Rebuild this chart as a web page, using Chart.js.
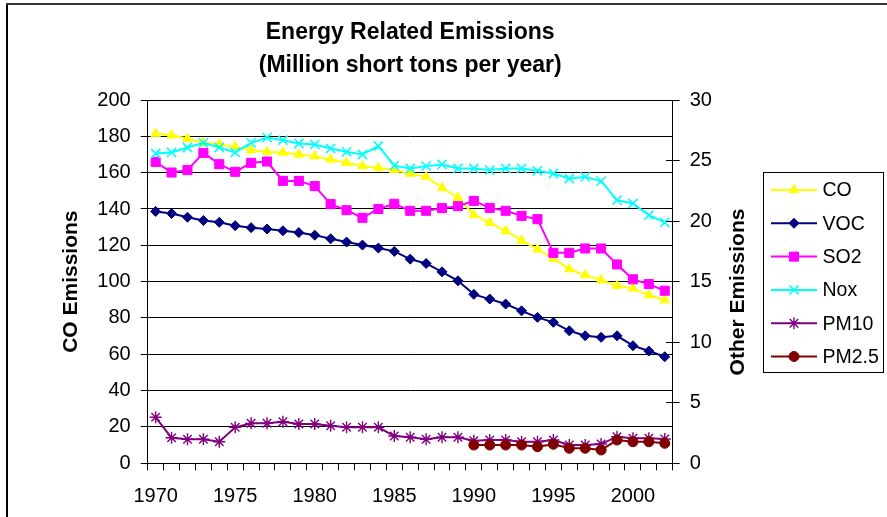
<!DOCTYPE html>
<html><head><meta charset="utf-8">
<script src="https://cdn.jsdelivr.net/npm/chart.js@4.4.1/dist/chart.umd.min.js"></script>
<style>html,body{margin:0;padding:0;background:#fff;overflow:hidden}canvas{display:block}</style>
</head><body>
<canvas id="c" width="887" height="517"></canvas>
<script>
const years = [1970,1971,1972,1973,1974,1975,1976,1977,1978,1979,1980,1981,1982,1983,1984,1985,1986,1987,1988,1989,1990,1991,1992,1993,1994,1995,1996,1997,1998,1999,2000,2001,2002];
const xTickLabels = ['1970','1975','1980','1985','1990','1995','2000'];
const leftTickValues = [0,20,40,60,80,100,120,140,160,180,200];
const rightTickValues = [0,5,10,15,20,25,30];

const coValues   = [181.5,180.6,178.8,176.4,175.7,174.2,172.4,171.5,171.1,170.0,169.1,167.3,165.4,163.6,162.7,161.5,159.5,157.7,151.7,146.2,136.8,132.4,128.0,122.7,117.8,112.8,106.9,103.6,100.9,97.7,96.3,92.6,89.9];
const vocValues  = [20.8,20.63,20.32,20.05,19.9,19.62,19.46,19.35,19.2,19.05,18.84,18.54,18.27,18.02,17.77,17.5,16.86,16.5,15.81,15.07,13.95,13.56,13.15,12.59,12.05,11.64,10.94,10.53,10.4,10.53,9.71,9.27,8.8];
const so2Values  = [24.89,24.01,24.21,25.63,24.70,24.07,24.81,24.92,23.32,23.32,22.89,21.40,20.90,20.27,21.0,21.43,20.85,20.85,21.07,21.23,21.67,21.09,20.85,20.43,20.16,17.38,17.38,17.74,17.74,16.42,15.19,14.80,14.25];
const noxValues  = [25.58,25.67,26.08,26.46,26.08,25.67,26.46,26.90,26.68,26.41,26.33,26.00,25.72,25.50,26.2,24.58,24.35,24.54,24.68,24.35,24.35,24.21,24.35,24.35,24.15,23.93,23.52,23.65,23.30,21.73,21.46,20.49,19.89];
const pm10Values = [3.80,2.11,1.98,1.98,1.78,2.97,3.30,3.30,3.43,3.24,3.24,3.10,2.97,2.97,2.97,2.25,2.15,1.98,2.15,2.15,1.87,1.92,1.92,1.78,1.78,1.92,1.51,1.51,1.59,2.20,2.06,2.06,2.01];
const pm25Values = [null,null,null,null,null,null,null,null,null,null,null,null,null,null,null,null,null,null,null,null,1.51,1.51,1.51,1.51,1.37,1.57,1.24,1.24,1.10,1.92,1.78,1.78,1.65];

const seriesNames = ['CO','VOC','SO2','Nox','PM10','PM2.5'];
const seriesValues = [coValues, vocValues, so2Values, noxValues, pm10Values, pm25Values];
const seriesAxes = ['y','y1','y1','y1','y1','y1'];
const seriesColors = ['#FFFF00','#000080','#FF00FF','#00FFFF','#800080','#800000'];
const seriesMarkers = ['triangle','rectRot','rect','crossRot','star','circle'];
const markerRadius = [5.5,5,6.4,6.5,6,5];
const markerBorder = [1,1,1,1.6,1.4,1];

const FONT = "'Liberation Sans', Arial, sans-serif";
Chart.defaults.font.family = FONT;
Chart.defaults.color = '#000';

// plot area geometry
const AREA = {left:147.7, right:672.7, top:100, bottom:463.3};

function drawMarker(ctx, style, r, bw, x, y, color){
  ctx.save();
  ctx.fillStyle = color; ctx.strokeStyle = color; ctx.lineWidth = bw;
  if (Chart.helpers && Chart.helpers.drawPoint) {
    Chart.helpers.drawPoint(ctx, {pointStyle: style, radius: r, borderWidth: bw, rotation: 0}, x, y);
  }
  ctx.restore();
}

const decor = {
  id: 'decor',
  beforeDraw(chart){
    const ctx = chart.ctx;
    ctx.save();
    ctx.fillStyle = '#fff'; ctx.fillRect(0,0,chart.width,chart.height);
    ctx.fillStyle = '#000'; ctx.fillRect(6,3,2,chart.height);
    ctx.fillStyle = '#333'; ctx.fillRect(6,3,chart.width,2);
    ctx.restore();
  },
  afterDraw(chart){
    const ctx = chart.ctx;
    const y1 = chart.scales.y1;
    const ca = chart.chartArea;
    ctx.save();
    // inner half of right-axis cross ticks
    ctx.strokeStyle = '#000'; ctx.lineWidth = 1;
    rightTickValues.forEach(v => {
      const py = Math.round(y1.getPixelForValue(v) - 0.5) + 0.5;
      ctx.beginPath(); ctx.moveTo(Math.round(ca.right) - 7, py); ctx.lineTo(Math.round(ca.right), py); ctx.stroke();
    });
    // right axis title (reads bottom to top)
    ctx.save();
    ctx.font = "bold 21px " + FONT;
    ctx.fillStyle = '#000';
    ctx.translate(738, 292);
    ctx.rotate(-Math.PI/2);
    ctx.textAlign = 'center'; ctx.textBaseline = 'middle';
    ctx.fillText('Other Emissions', 0, 0);
    ctx.restore();
    // legend
    ctx.strokeStyle = '#000'; ctx.lineWidth = 1;
    ctx.strokeRect(763.5, 172.5, 120, 200);
    ctx.font = "19.5px " + FONT;
    ctx.textAlign = 'left'; ctx.textBaseline = 'middle';
    seriesNames.forEach((name, i) => {
      const yy = 190 + i * 33.3;
      ctx.strokeStyle = seriesColors[i]; ctx.lineWidth = 2;
      ctx.beginPath(); ctx.moveTo(771, yy); ctx.lineTo(817, yy); ctx.stroke();
      drawMarker(ctx, seriesMarkers[i], markerRadius[i], markerBorder[i], 794, yy, seriesColors[i]);
      ctx.fillStyle = '#000';
      ctx.fillText(name, 822.5, yy + 1);
    });
    ctx.restore();
  }
};

const datasets = seriesNames.map((name, i) => ({
  label: name,
  data: seriesValues[i],
  yAxisID: seriesAxes[i],
  borderColor: seriesColors[i],
  backgroundColor: seriesColors[i],
  borderWidth: 2,
  pointStyle: seriesMarkers[i],
  pointRadius: markerRadius[i],
  pointBackgroundColor: seriesColors[i],
  pointBorderColor: seriesColors[i],
  pointBorderWidth: markerBorder[i],
  tension: 0,
  spanGaps: false,
  order: seriesNames.length - i
}));

new Chart(document.getElementById('c'), {
  type: 'line',
  data: { labels: years.map(String), datasets },
  options: {
    responsive: false,
    devicePixelRatio: 1,
    animation: false,
    events: [],
    layout: { padding: 0 },
    plugins: {
      legend: { display: false },
      tooltip: { enabled: false },
      title: {
        display: true,
        fullSize: false,
        text: ['Energy Related Emissions', '(Million short tons per year)'],
        font: { size: 23, weight: 'bold', lineHeight: '33px', family: FONT },
        color: '#000',
        padding: { top: 16.5, bottom: 17.5 }
      }
    },
    scales: {
      x: {
        type: 'category',
        offset: true,
        grid: { display: true, drawOnChartArea: false, drawTicks: true, tickLength: 7, offset: true, color: '#000', lineWidth: 1 },
        border: { display: true, color: '#000', width: 1 },
        ticks: {
          autoSkip: false, maxRotation: 0, minRotation: 0, padding: 14,
          font: { size: 20 }, color: '#000',
          callback: (v, i) => xTickLabels.includes(String(years[i])) ? String(years[i]) : ''
        },
        afterFit: s => { s.height = 517 - AREA.bottom; }
      },
      y: {
        position: 'left',
        min: leftTickValues[0], max: leftTickValues[leftTickValues.length - 1],
        afterBuildTicks: s => { s.ticks = leftTickValues.map(v => ({value: v})); },
        grid: { color: '#000', lineWidth: 1, drawTicks: true, tickLength: 7 },
        border: { display: true, color: '#000', width: 1 },
        ticks: { padding: 10, font: { size: 20 }, color: '#000' },
        title: { display: true, text: 'CO Emissions', font: { size: 21, weight: 'bold' }, color: '#000', padding: { top: 59, bottom: 0 } },
        afterFit: s => { s.width = AREA.left; }
      },
      y1: {
        position: 'right',
        min: rightTickValues[0], max: rightTickValues[rightTickValues.length - 1],
        afterBuildTicks: s => { s.ticks = rightTickValues.map(v => ({value: v})); },
        grid: { drawOnChartArea: false, color: '#000', lineWidth: 1, drawTicks: true, tickLength: 7 },
        border: { display: true, color: '#000', width: 1 },
        ticks: { padding: 10, font: { size: 20 }, color: '#000' },
        afterFit: s => { s.width = 887 - AREA.right; }
      }
    }
  },
  plugins: [decor]
});
</script>
</body></html>
